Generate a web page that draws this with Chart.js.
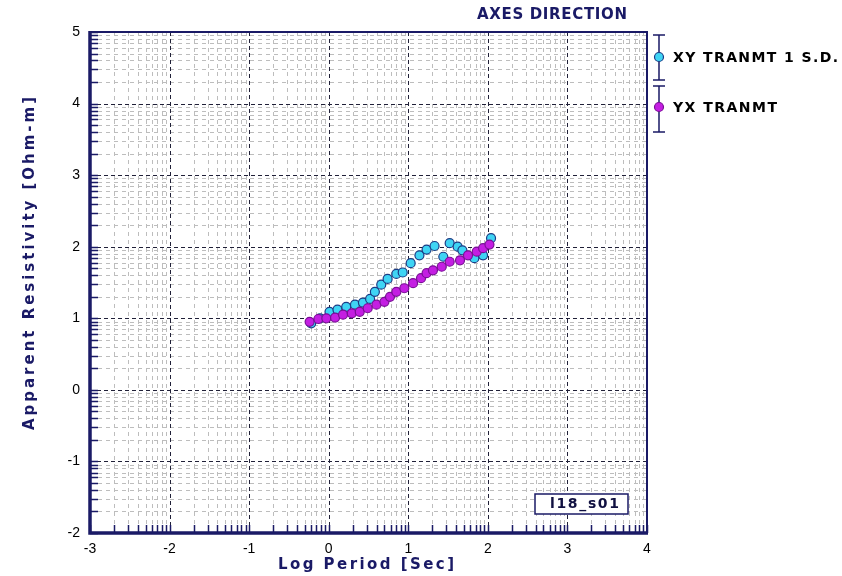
<!DOCTYPE html>
<html>
<head>
<meta charset="utf-8">
<script src="https://cdn.jsdelivr.net/npm/chart.js@4"></script>
<style>
  body { margin: 0; background: #fff; }
  canvas { display: block; }
</style>
</head>
<body>
<canvas id="myChart" width="842" height="576"></canvas>
<script>
'use strict'

// log period (sec) and apparent resistivity (log ohm-m)
let periodXY = [-0.22, -0.11, 0.01, 0.11, 0.22, 0.33, 0.43, 0.52, 0.58, 0.66, 0.74, 0.85, 0.93, 1.03, 1.14, 1.23, 1.33, 1.44, 1.52, 1.62, 1.68, 1.83, 1.94, 2.04];
let rhoXY = [0.93, 1.00, 1.09, 1.12, 1.16, 1.19, 1.22, 1.27, 1.37, 1.47, 1.55, 1.62, 1.64, 1.77, 1.88, 1.96, 2.01, 1.86, 2.05, 2.00, 1.95, 1.84, 1.88, 2.12];

let periodYX = [-0.24, -0.13, -0.03, 0.08, 0.18, 0.29, 0.39, 0.49, 0.60, 0.70, 0.77, 0.85, 0.95, 1.06, 1.16, 1.23, 1.31, 1.42, 1.52, 1.65, 1.75, 1.86, 1.94, 2.02];
let rhoYX = [0.95, 0.99, 1.00, 1.01, 1.05, 1.07, 1.09, 1.14, 1.19, 1.23, 1.30, 1.37, 1.42, 1.49, 1.56, 1.63, 1.67, 1.72, 1.79, 1.81, 1.88, 1.93, 1.98, 2.03];

let xTicks = [-3, -2, -1, 0, 1, 2, 3, 4];
let yTicks = [-2, -1, 0, 1, 2, 3, 4, 5];

let seriesNames = ['XY TRANMT 1 S.D.', 'YX TRANMT'];
let chartTitle = 'AXES DIRECTION';
let xTitle = 'Log Period [Sec]';
let yTitle = 'Apparent Resistivity [Ohm-m]';
let siteName = 'l18_s01';

const navy = '#1a1a66';
const cyanFill = '#3fd4f4';
const cyanEdge = '#1b3c86';
const purpleFill = '#c41ee2';
const purpleEdge = '#7a0f96';
const boldFont = 'bold 15px "DejaVu Sans", sans-serif';

function toPoints(xs, ys) {
    let pts = [];
    for (let i = 0; i < xs.length; i++) {
        pts.push({ x: xs[i], y: ys[i] });
    }
    return pts;
}

// draws text one glyph at a time, spread to fill the given width
function spacedText(ctx, text, x, y, width) {
    let plain = ctx.measureText(text).width;
    let gap = text.length > 1 ? (width - plain) / (text.length - 1) : 0;
    let cx = x;
    ctx.textAlign = 'left';
    for (let ch of text) {
        ctx.fillText(ch, cx, y);
        cx += ctx.measureText(ch).width + gap;
    }
}

// log-decade grid, frame and inward ticks
const logGrid = {
    id: 'logGrid',
    beforeDatasetsDraw(chart) {
        const ctx = chart.ctx;
        const a = chart.chartArea;
        const sx = chart.scales.x;
        const sy = chart.scales.y;
        let minorX = [];
        let minorY = [];
        for (let d = xTicks[0]; d < xTicks[xTicks.length - 1]; d++) {
            for (let k = 2; k <= 9; k++) minorX.push(d + Math.log10(k));
        }
        for (let d = yTicks[0]; d < yTicks[yTicks.length - 1]; d++) {
            for (let k = 2; k <= 9; k++) minorY.push(d + Math.log10(k));
        }
        ctx.save();
        ctx.lineWidth = 1;
        ctx.strokeStyle = '#bdbdbd';
        ctx.setLineDash([4, 4]);
        ctx.beginPath();
        minorX.forEach(v => {
            let px = Math.round(sx.getPixelForValue(v)) + 0.5;
            ctx.moveTo(px, a.top); ctx.lineTo(px, a.bottom);
        });
        minorY.forEach(v => {
            let py = Math.round(sy.getPixelForValue(v)) + 0.5;
            ctx.moveTo(a.left, py); ctx.lineTo(a.right, py);
        });
        ctx.stroke();

        ctx.strokeStyle = '#202038';
        ctx.setLineDash([4, 3]);
        ctx.beginPath();
        xTicks.slice(1, -1).forEach(v => {
            let px = Math.round(sx.getPixelForValue(v)) + 0.5;
            ctx.moveTo(px, a.top); ctx.lineTo(px, a.bottom);
        });
        yTicks.slice(1, -1).forEach(v => {
            let py = Math.round(sy.getPixelForValue(v)) + 0.5;
            ctx.moveTo(a.left, py); ctx.lineTo(a.right, py);
        });
        ctx.stroke();

        // inward ticks
        ctx.setLineDash([]);
        ctx.strokeStyle = navy;
        ctx.lineWidth = 1.5;
        ctx.beginPath();
        minorX.concat(xTicks).forEach(v => {
            let px = Math.round(sx.getPixelForValue(v)) + 0.5;
            ctx.moveTo(px, a.bottom); ctx.lineTo(px, a.bottom - 8);
        });
        minorY.concat(yTicks).forEach(v => {
            let py = Math.round(sy.getPixelForValue(v)) + 0.5;
            ctx.moveTo(a.left, py); ctx.lineTo(a.left + 8, py);
        });
        ctx.stroke();

        // frame
        ctx.lineWidth = 2;
        ctx.strokeRect(a.left, a.top, a.right - a.left, a.bottom - a.top);
        ctx.lineWidth = 3.5;
        ctx.beginPath();
        ctx.moveTo(a.left, a.top - 1);
        ctx.lineTo(a.left, a.bottom);
        ctx.lineTo(a.right + 1, a.bottom);
        ctx.stroke();
        ctx.restore();
    },
    afterDraw(chart) {
        const ctx = chart.ctx;
        const a = chart.chartArea;
        ctx.save();
        ctx.textBaseline = 'middle';

        // heading
        ctx.fillStyle = navy;
        ctx.font = 'bold 15px "DejaVu Sans", sans-serif';
        spacedText(ctx, chartTitle, 477, 15, 150);

        // axis titles
        ctx.font = boldFont;
        spacedText(ctx, xTitle, 278, 565, 176);
        ctx.save();
        ctx.translate(30, 430);
        ctx.rotate(-Math.PI / 2);
        spacedText(ctx, yTitle, 0, 0, 333);
        ctx.restore();

        // legend with error-bar symbols
        const lx = a.right + 12;
        const items = [
            { y: 57, top: 35, bot: 80, w: 165, fill: cyanFill, edge: cyanEdge },
            { y: 107, top: 86, bot: 132, w: 104, fill: purpleFill, edge: purpleEdge }
        ];
        items.forEach((it, i) => {
            ctx.strokeStyle = navy;
            ctx.lineWidth = 1.5;
            ctx.beginPath();
            ctx.moveTo(lx, it.top); ctx.lineTo(lx, it.bot);
            ctx.moveTo(lx - 6, it.top); ctx.lineTo(lx + 6, it.top);
            ctx.moveTo(lx - 6, it.bot); ctx.lineTo(lx + 6, it.bot);
            ctx.stroke();
            ctx.beginPath();
            ctx.arc(lx, it.y, 4.5, 0, Math.PI * 2);
            ctx.fillStyle = it.fill;
            ctx.fill();
            ctx.strokeStyle = it.edge;
            ctx.lineWidth = 1.2;
            ctx.stroke();
            ctx.fillStyle = '#000';
            ctx.font = 'bold 14px "DejaVu Sans", sans-serif';
            spacedText(ctx, seriesNames[i], lx + 14, it.y + 1, it.w);
        });

        // site box
        ctx.fillStyle = '#fff';
        ctx.fillRect(535, 494, 93, 20);
        ctx.strokeStyle = navy;
        ctx.lineWidth = 1.5;
        ctx.strokeRect(535, 494, 93, 20);
        ctx.fillStyle = '#101040';
        ctx.font = 'bold 14px "DejaVu Sans", sans-serif';
        spacedText(ctx, siteName, 550, 504.5, 69);
        ctx.restore();
    }
};

let ctx = document.getElementById('myChart');
let myChart = new Chart(ctx, {
    type: 'scatter',
    data: {
        datasets: [{
            label: seriesNames[1],
            data: toPoints(periodYX, rhoYX),
            backgroundColor: purpleFill,
            borderColor: purpleEdge,
            borderWidth: 1.2,
            pointRadius: 4.5
        },
        {
            label: seriesNames[0],
            data: toPoints(periodXY, rhoXY),
            backgroundColor: cyanFill,
            borderColor: cyanEdge,
            borderWidth: 1.2,
            pointRadius: 4.5
        }]
    },
    options: {
        responsive: false,
        animation: false,
        devicePixelRatio: 1,
        layout: { padding: { left: 0, top: 32, right: 195, bottom: 0 } },
        plugins: {
            legend: { display: false },
            tooltip: { enabled: false }
        },
        scales: {
            x: {
                type: 'linear',
                min: -3,
                max: 4,
                afterBuildTicks: s => { s.ticks = xTicks.map(v => ({ value: v })); },
                afterFit: s => { s.height = 43; },
                grid: { display: false, drawTicks: false },
                border: { display: false },
                ticks: {
                    padding: 8,
                    color: '#000',
                    font: { family: '"Liberation Sans", Arial, sans-serif', size: 14 }
                }
            },
            y: {
                type: 'linear',
                min: -2,
                max: 5,
                afterBuildTicks: s => { s.ticks = yTicks.map(v => ({ value: v })); },
                afterFit: s => { s.width = 90; },
                grid: { display: false, drawTicks: false },
                border: { display: false },
                ticks: {
                    padding: 10,
                    color: '#000',
                    font: { family: '"Liberation Sans", Arial, sans-serif', size: 14 }
                }
            }
        }
    },
    plugins: [logGrid]
});
</script>
</body>
</html>
